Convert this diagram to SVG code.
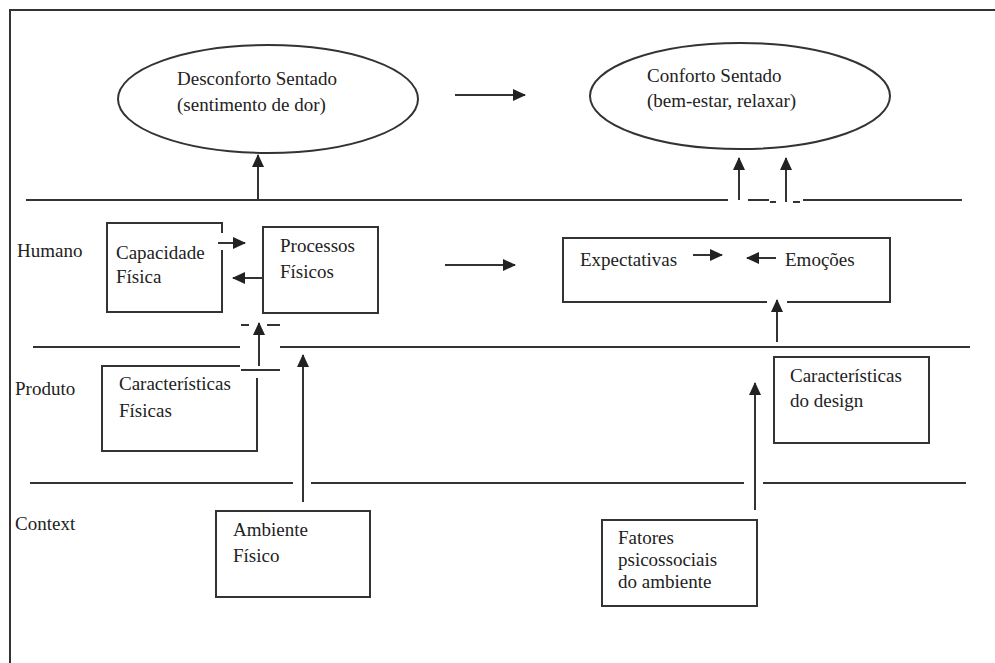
<svg xmlns="http://www.w3.org/2000/svg" width="995" height="663" viewBox="0 0 995 663">
  <style>
    .ln { fill: none; stroke: #333; stroke-width: 2; }
    .nd { fill: #fff; stroke: #333; stroke-width: 2; }
    .op { fill: none; stroke: #333; stroke-width: 2; }
    .tx { font-family: "Liberation Serif", "Times New Roman", serif; font-size: 19px; fill: #222; }
    .ar { fill: none; stroke: #333; stroke-width: 2; marker-end: url(#head); }
  </style>
  <defs>
    <marker id="head" markerUnits="userSpaceOnUse" markerWidth="13" markerHeight="12" refX="12" refY="6" orient="auto">
      <path d="M0,0 L13,6 L0,12 z" fill="#222"/>
    </marker>
  </defs>

  <rect width="995" height="663" fill="#fff"/>

  <!-- outer frame (top and left edges only) -->
  <path class="ln" d="M10 663 V10 H995"/>

  <!-- lane separators -->
  <g id="lanes">
    <path class="ln" d="M26 200 H728 M748 200 H769 M770 202 H776 M793 202 H800 M803 200 H962"/>
    <path class="ln" d="M33 347 H240 M280 347 H970 M241 325 H249 M267 325 H280 M241 370 H280"/>
    <path class="ln" d="M30 483 H293 M311 483 H744 M763 483 H966"/>
  </g>

  <!-- lane labels -->
  <g id="labels">
    <text class="tx" x="17" y="257">Humano</text>
    <text class="tx" x="15" y="395">Produto</text>
    <text class="tx" x="15" y="530">Context</text>
  </g>

  <g id="desconforto">
    <ellipse class="nd" cx="268" cy="99" rx="150" ry="54"/>
    <text class="tx" x="177" y="85">Desconforto Sentado</text>
    <text class="tx" x="177" y="111">(sentimento de dor)</text>
  </g>

  <g id="conforto">
    <ellipse class="nd" cx="740" cy="96" rx="150" ry="53"/>
    <text class="tx" x="647" y="82">Conforto Sentado</text>
    <text class="tx" x="647" y="107">(bem-estar, relaxar)</text>
  </g>

  <g id="capacidade">
    <path class="op" d="M222 233 V223 H107 V312 H222 V250"/>
    <text class="tx" x="116" y="259">Capacidade</text>
    <text class="tx" x="116" y="283">Física</text>
  </g>

  <g id="processos">
    <rect class="nd" x="263" y="227" width="115" height="86"/>
    <text class="tx" x="280" y="252">Processos</text>
    <text class="tx" x="280" y="278">Físicos</text>
  </g>

  <g id="expectativas-emocoes">
    <path class="op" d="M767 302 H563 V238 H890 V302 H787"/>
    <text class="tx" x="580" y="266">Expectativas</text>
    <text class="tx" x="785" y="266">Emoções</text>
  </g>

  <g id="caracteristicas-fisicas">
    <path class="op" d="M240 366 H102 V451 H257 V378"/>
    <text class="tx" x="119" y="390">Características</text>
    <text class="tx" x="119" y="417">Físicas</text>
  </g>

  <g id="caracteristicas-design">
    <rect class="nd" x="774" y="357" width="155" height="86"/>
    <text class="tx" x="790" y="382">Características</text>
    <text class="tx" x="790" y="407">do design</text>
  </g>

  <g id="ambiente">
    <rect class="nd" x="216" y="511" width="154" height="86"/>
    <text class="tx" x="233" y="536">Ambiente</text>
    <text class="tx" x="233" y="562">Físico</text>
  </g>

  <g id="fatores">
    <rect class="nd" x="602" y="520" width="155" height="86"/>
    <text class="tx" x="618" y="544">Fatores</text>
    <text class="tx" x="618" y="566">psicossociais</text>
    <text class="tx" x="618" y="588">do ambiente</text>
  </g>

  <!-- connectors -->
  <g id="connectors">
    <path class="ar" d="M455 95 H525"/>
    <path class="ar" d="M258 200 V155"/>
    <path class="ar" d="M739 200 V158"/>
    <path class="ar" d="M786 202 V158"/>
    <path class="ar" d="M218 243 H245"/>
    <path class="ar" d="M263 278 H233"/>
    <path class="ar" d="M445 265 H515"/>
    <path class="ar" d="M693 255 H722"/>
    <path class="ar" d="M776 258 H747"/>
    <path class="ar" d="M777 342 V300"/>
    <path class="ar" d="M259 366 V323"/>
    <path class="ar" d="M303 502 V355"/>
    <path class="ar" d="M755 510 V383"/>
  </g>
</svg>
